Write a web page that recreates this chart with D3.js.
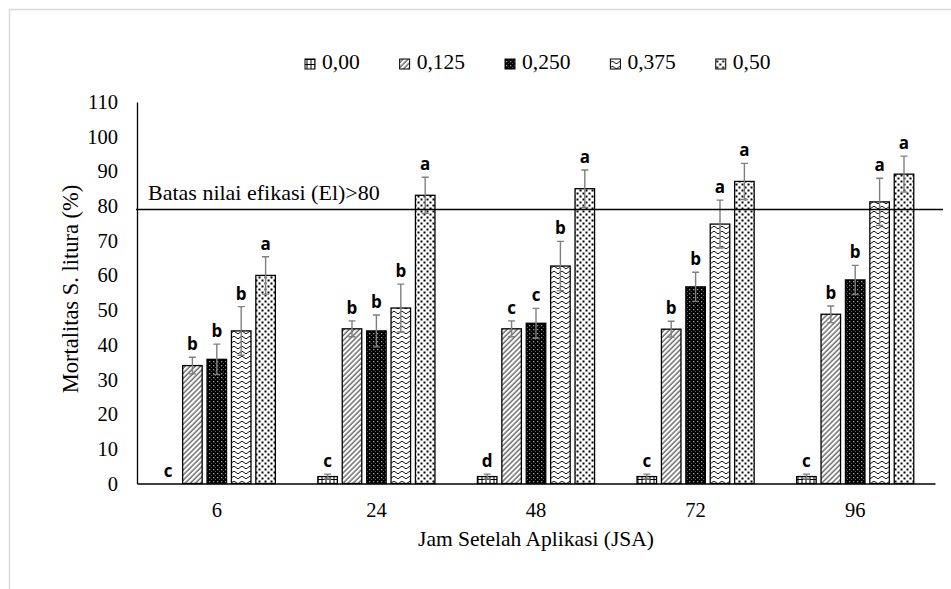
<!DOCTYPE html>
<html>
<head>
<meta charset="utf-8">
<script src="https://cdn.jsdelivr.net/npm/d3@7"></script>
<style>
  body { margin: 0; background: #fff; }
  svg text { font-family: "Liberation Serif", "Times New Roman", serif; }
  .sig { font-family: "Open Sans", "DejaVu Sans", sans-serif; font-weight: bold; }
</style>
</head>
<body>
<div id="chart"></div>
<script>
const hours = ["6", "24", "48", "72", "96"];
const doses = ["0,00", "0,125", "0,250", "0,375", "0,50"];

// mortality (%) per dose, one value per hour group
const mort000 = [0, 2, 2, 2, 2];
const mort0125 = [34, 44.6, 44.6, 44.5, 48.8];
const mort0250 = [35.8, 44, 46.2, 56.7, 58.7];
const mort0375 = [44, 50.6, 62.7, 74.8, 81.2];
const mort050 = [60, 83.1, 85, 87.1, 89.2];

// error bar half-lengths
const err000 = [0, 0.7, 0.7, 0.7, 0.7];
const err0125 = [2.4, 2.3, 2.3, 2.3, 2.4];
const err0250 = [4.4, 4.6, 4.3, 4.2, 4.2];
const err0375 = [7, 6.9, 7.1, 6.9, 6.8];
const err050 = [5.4, 5.2, 5.4, 5.2, 5.2];

// significance letters
const sig000 = ["c", "c", "d", "c", "c"];
const sig0125 = ["b", "b", "c", "b", "b"];
const sig0250 = ["b", "b", "c", "b", "b"];
const sig0375 = ["b", "b", "b", "a", "a"];
const sig050 = ["a", "a", "a", "a", "a"];

const yTicks = [0, 10, 20, 30, 40, 50, 60, 70, 80, 90, 100, 110];
const threshold = 79;
const thresholdLabel = "Batas nilai efikasi (El)>80";

const series = [
  { vals: mort000, errs: err000, sig: sig000 },
  { vals: mort0125, errs: err0125, sig: sig0125 },
  { vals: mort0250, errs: err0250, sig: sig0250 },
  { vals: mort0375, errs: err0375, sig: sig0375 },
  { vals: mort050, errs: err050, sig: sig050 }
];

const rows = [];
hours.forEach((h, i) => {
  doses.forEach((d, j) => {
    rows.push({ hour: h, dose: d, k: j, v: series[j].vals[i], e: series[j].errs[i], s: series[j].sig[i] });
  });
});

const W = 951, H = 589;
const svg = d3.select('#chart').append('svg')
  .attr('width', W)
  .attr('height', H);

// light frame round the chart
svg.append('rect')
  .attr('x', 9.5).attr('y', 9.5)
  .attr('width', W + 20).attr('height', H + 20)
  .attr('fill', 'none')
  .attr('stroke', '#d9d9d9')
  .attr('stroke-width', 1.5);

const defs = svg.append('defs');

// 0,00 - small grid
const p0 = defs.append('pattern').attr('id', 'pat0').attr('patternUnits', 'userSpaceOnUse')
  .attr('width', 4).attr('height', 5);
p0.append('rect').attr('width', 4).attr('height', 5).attr('fill', '#fff');
p0.append('path').attr('d', 'M0,4.5H4M2,0V4.5').attr('stroke', '#000').attr('stroke-width', 1);

// 0,125 - diagonal hatch
const p1 = defs.append('pattern').attr('id', 'pat1').attr('patternUnits', 'userSpaceOnUse')
  .attr('width', 3.6).attr('height', 3.6).attr('patternTransform', 'rotate(45)');
p1.append('rect').attr('width', 3.6).attr('height', 3.6).attr('fill', '#fff');
p1.append('line').attr('x1', 1).attr('x2', 1).attr('y1', 0).attr('y2', 3.6)
  .attr('stroke', '#000').attr('stroke-width', 0.85);

// 0,250 - black with light dots
const p2 = defs.append('pattern').attr('id', 'pat2').attr('patternUnits', 'userSpaceOnUse')
  .attr('width', 4).attr('height', 4);
p2.append('rect').attr('width', 4).attr('height', 4).attr('fill', '#000');
p2.append('rect').attr('x', 1).attr('y', 1).attr('width', 1.3).attr('height', 1.3).attr('fill', '#9a9a9a');
p2.append('rect').attr('x', 3).attr('y', 3).attr('width', 1).attr('height', 1).attr('fill', '#555');

// 0,375 - waves
const p3 = defs.append('pattern').attr('id', 'pat3').attr('patternUnits', 'userSpaceOnUse')
  .attr('width', 8).attr('height', 5);
p3.append('rect').attr('width', 8).attr('height', 5).attr('fill', '#fff');
p3.append('path').attr('d', 'M0,2.5 Q2,-0.2 4,2.5 Q6,5.2 8,2.5')
  .attr('fill', 'none').attr('stroke', '#000').attr('stroke-width', 0.9);

// 0,50 - black dots on white
const p4 = defs.append('pattern').attr('id', 'pat4').attr('patternUnits', 'userSpaceOnUse')
  .attr('width', 6).attr('height', 6);
p4.append('rect').attr('width', 6).attr('height', 6).attr('fill', '#fff');
p4.append('rect').attr('x', 0.5).attr('y', 0.5).attr('width', 2).attr('height', 2).attr('fill', '#000');
p4.append('rect').attr('x', 3.5).attr('y', 3.5).attr('width', 2).attr('height', 2).attr('fill', '#000');

const fills = doses.map((d, j) => `url(#pat${j})`);

const x0 = d3.scaleBand().domain(hours).range([137, 935]).padding(0);
const x1 = d3.scaleBand().domain(d3.range(doses.length))
  .range([0, 122]).paddingInner(0.2).paddingOuter(0.1);
const groupOffset = (x0.bandwidth() - 122) / 2;
const y = d3.scaleLinear().domain([0, 110]).range([483.5, 102]);

// y axis
const yAxis = svg.append('g')
  .attr('transform', 'translate(137,0)')
  .call(d3.axisLeft(y).tickValues(yTicks).tickSize(0).tickPadding(19).tickFormat(d3.format('d')));
yAxis.select('.domain').attr('stroke', '#000').attr('stroke-width', 1.3);
yAxis.selectAll('text').attr('font-size', 20.5).attr('fill', '#000')
  .style('font-family', '"Liberation Serif", serif');

// bars
const barG = svg.append('g');
barG.selectAll('rect')
  .data(rows)
  .join('rect')
  .attr('x', d => x0(d.hour) + groupOffset + x1(d.k))
  .attr('y', d => y(d.v))
  .attr('width', x1.bandwidth())
  .attr('height', d => y(0) - y(d.v))
  .attr('fill', d => fills[d.k])
  .attr('stroke', '#000')
  .attr('stroke-width', 1.3);

// x axis
const xAxis = svg.append('g')
  .attr('transform', `translate(0,${y(0)})`)
  .call(d3.axisBottom(x0).tickSize(0).tickPadding(19));
xAxis.select('.domain').attr('stroke', '#000').attr('stroke-width', 1.3);
xAxis.selectAll('text').attr('font-size', 20.5).attr('fill', '#000')
  .style('font-family', '"Liberation Serif", serif');

// error bars
const errG = svg.append('g').attr('stroke', '#7f7f7f').attr('stroke-width', 1.4);
const errRows = rows.filter(d => d.e > 0);
const cx = d => x0(d.hour) + groupOffset + x1(d.k) + x1.bandwidth() / 2;
errG.selectAll('path')
  .data(errRows)
  .join('path')
  .attr('fill', 'none')
  .attr('d', d => {
    const c = cx(d), t = y(d.v + d.e), b = y(Math.max(0, d.v - d.e));
    return `M${c - 3.5},${t}H${c + 3.5}M${c},${t}V${b}M${c - 3.5},${b}H${c + 3.5}`;
  });

// significance letters
svg.append('g').selectAll('text')
  .data(rows)
  .join('text')
  .attr('class', 'sig')
  .attr('x', cx)
  .attr('y', d => y(d.v + d.e) - 7)
  .attr('text-anchor', 'middle')
  .attr('font-size', 17)
  .text(d => d.s);

// efficacy threshold
svg.append('line')
  .attr('x1', 136)
  .attr('x2', x0.range()[1] + 8)
  .attr('y1', y(threshold))
  .attr('y2', y(threshold))
  .attr('stroke', '#000')
  .attr('stroke-width', 1.4);
svg.append('text')
  .attr('x', 148)
  .attr('y', y(threshold) - 10)
  .attr('font-size', 22)
  .text(thresholdLabel);

// axis titles
svg.append('text')
  .attr('transform', 'translate(78,289) rotate(-90)')
  .attr('text-anchor', 'middle')
  .attr('font-size', 22.5)
  .text('Mortalitas S. litura (%)');
svg.append('text')
  .attr('x', 536)
  .attr('y', 546)
  .attr('text-anchor', 'middle')
  .attr('font-size', 21.5)
  .text('Jam Setelah Aplikasi (JSA)');

// legend
const legend = svg.append('g');
let lx = 305;
doses.forEach((d, j) => {
  const item = legend.append('g').attr('transform', `translate(${lx},0)`);
  item.append('rect')
    .attr('x', 0).attr('y', 59)
    .attr('width', 10).attr('height', 10)
    .attr('fill', fills[j])
    .attr('stroke', '#000')
    .attr('stroke-width', 1);
  const t = item.append('text')
    .attr('x', 17).attr('y', 69)
    .attr('font-size', 21.5)
    .text(d);
  lx += 17 + t.node().getComputedTextLength() + 40;
});
</script>
</body>
</html>
